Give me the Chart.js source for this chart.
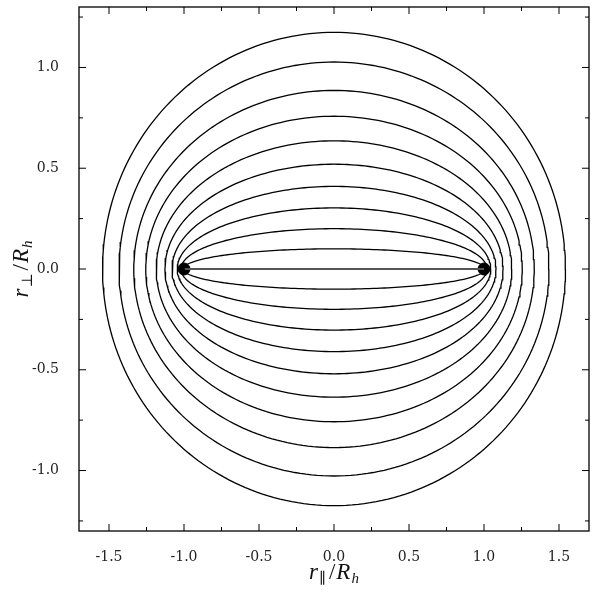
<!DOCTYPE html>
<html>
<head>
<meta charset="utf-8">
<script src="https://cdn.jsdelivr.net/npm/chart.js@4/dist/chart.umd.min.js"></script>
<style>
  html, body { margin: 0; padding: 0; background: #fff; }
  #wrap { width: 596px; height: 596px; }
</style>
</head>
<body>
<div id="wrap"><canvas id="ellipses"></canvas></div>
<script>
// confocal ellipses: half-widths (at y=0) and half-heights (at x=0)
const semiMajor = [1.0, 1.005, 1.02, 1.045, 1.08, 1.127, 1.185, 1.255, 1.335, 1.433, 1.543];
const semiMinor = [0.0, 0.100, 0.20, 0.303, 0.41, 0.520, 0.636, 0.758, 0.886, 1.027, 1.174];
const fociX = [-1, 1];
const xTicks = [-1.5, -1.0, -0.5, 0.0, 0.5, 1.0, 1.5];
const yTicks = [-1.0, -0.5, 0.0, 0.5, 1.0];
const xRange = [-1.7, 1.7];
const yRange = [-1.3, 1.3];

const serif = "'DejaVu Serif', 'Liberation Serif', serif";
const mathFont = "'Liberation Serif', 'DejaVu Serif', serif";

function ellipsePoints(a, b) {
    let pts = [];
    for (let i = 0; i <= 240; i++) {
        let t = i / 240 * 2 * Math.PI;
        pts.push({ x: a * Math.cos(t), y: b * Math.sin(t) });
    }
    return pts;
}

let datasets = semiMajor.map((a, i) => ({
    data: ellipsePoints(a, semiMinor[i]),
    showLine: true,
    borderColor: semiMinor[i] === 0 ? '#555' : '#000',
    borderWidth: semiMinor[i] === 0 ? 1.8 : 1.3,
    pointRadius: 0,
    tension: 0
}));
datasets.push({
    data: fociX.map(v => ({ x: v, y: 0 })),
    showLine: false,
    pointRadius: 6,
    pointBackgroundColor: '#000',
    pointBorderColor: '#000'
});

// draws a math label made of pieces: [text, italic, subscript, extra gap]
function drawParts(ctx, parts, cx, cy) {
    const size = 23, sub = 15;
    let widths = parts.map(p => {
        ctx.font = (p[1] ? 'italic ' : '') + (p[2] ? sub : size) + 'px ' + mathFont;
        return ctx.measureText(p[0]).width + (p[3] || 0);
    });
    let total = widths.reduce((s, w) => s + w, 0);
    let x = cx - total / 2;
    ctx.textBaseline = 'alphabetic';
    ctx.textAlign = 'left';
    parts.forEach((p, i) => {
        ctx.font = (p[1] ? 'italic ' : '') + (p[2] ? sub : size) + 'px ' + mathFont;
        ctx.fillText(p[0], x, cy + 7 + (p[2] ? 4 : 0));
        x += widths[i];
    });
}

const framePlugin = {
    id: 'frame',
    afterDraw(chart) {
        const { ctx, chartArea, scales } = chart;
        const { left, right, top, bottom } = chartArea;
        ctx.save();
        ctx.strokeStyle = '#000';
        ctx.lineWidth = 1.3;
        ctx.strokeRect(left, top, right - left, bottom - top);

        // inward ticks on all four sides, minor ones halfway between
        function ticks(vals, scale, horizontal) {
            let all = [];
            let step = vals[1] - vals[0];
            for (let v = vals[0] - step; v <= vals[vals.length - 1] + step + 1e-9; v += step / 2) {
                all.push(v);
            }
            all.forEach(v => {
                let p = scale.getPixelForValue(v);
                let major = vals.some(m => Math.abs(m - v) < 1e-6);
                let len = major ? 7 : 4;
                ctx.beginPath();
                if (horizontal) {
                    if (p < left || p > right) return;
                    ctx.moveTo(p, bottom); ctx.lineTo(p, bottom - len);
                    ctx.moveTo(p, top); ctx.lineTo(p, top + len);
                } else {
                    if (p < top || p > bottom) return;
                    ctx.moveTo(left, p); ctx.lineTo(left + len, p);
                    ctx.moveTo(right, p); ctx.lineTo(right - len, p);
                }
                ctx.stroke();
            });
        }
        ctx.lineWidth = 1;
        ticks(xTicks, scales.x, true);
        ticks(yTicks, scales.y, false);

        ctx.fillStyle = '#111';
        drawParts(ctx, [['r', true, false, 1], ['\u2225', false, true, 3], ['/', false, false, 1], ['R', true, false, 1], ['h', true, true]],
            (left + right) / 2, 572);
        ctx.translate(21, (top + bottom) / 2);
        ctx.rotate(-Math.PI / 2);
        drawParts(ctx, [['r', true, false, 1], ['\u22A5', false, true, 3], ['/', false, false, 1], ['R', true, false, 1], ['h', true, true]], 0, 0);
        ctx.restore();
    }
};

new Chart(document.getElementById('ellipses'), {
    type: 'scatter',
    data: { datasets: datasets },
    plugins: [framePlugin],
    options: {
        responsive: true,
        maintainAspectRatio: false,
        animation: false,
        layout: { padding: { top: 1, right: 6, left: 0, bottom: 0 } },
        plugins: { legend: { display: false }, tooltip: { enabled: false } },
        scales: {
            x: {
                type: 'linear',
                min: xRange[0],
                max: xRange[1],
                afterBuildTicks: s => { s.ticks = xTicks.map(v => ({ value: v })); },
                afterFit: s => { s.height = 65; s.paddingLeft = 0; s.paddingRight = 0; },
                grid: { display: false },
                border: { display: false },
                ticks: {
                    padding: 10,
                    maxRotation: 0,
                    color: '#222',
                    font: { family: serif, size: 14 },
                    callback: v => v.toFixed(1)
                }
            },
            y: {
                type: 'linear',
                min: yRange[0],
                max: yRange[1],
                afterBuildTicks: s => { s.ticks = yTicks.map(v => ({ value: v })); },
                afterFit: s => { s.width = 79; s.paddingTop = 0; s.paddingBottom = 0; },
                grid: { display: false },
                border: { display: false },
                ticks: {
                    padding: 12,
                    color: '#222',
                    font: { family: serif, size: 14 },
                    callback: v => v.toFixed(1)
                }
            }
        }
    }
});
</script>
</body>
</html>
